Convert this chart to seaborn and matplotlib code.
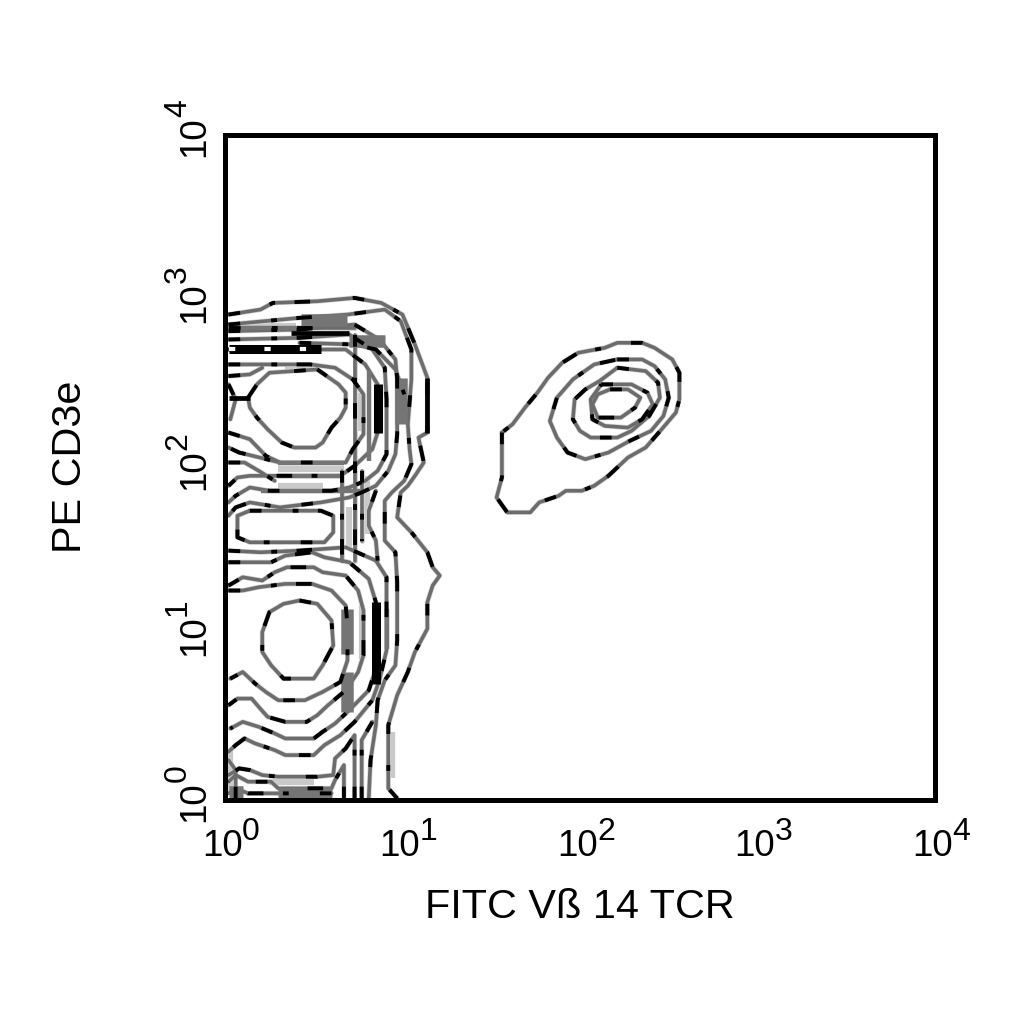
import numpy as np
import pandas as pd
import matplotlib
matplotlib.use('Agg')
import matplotlib.pyplot as plt
import seaborn as sns

# Contour outlines, in log10 units (decades) on both axes

# Population on the left, lines running round both peaks
outer_x = [.02,.20,.27,.52,.73,.88,1.00,1.07,1.14,1.14,1.09,1.12,1.07,1.03,.99,.97,1.05,1.14,1.17,1.21,1.17,1.14,1.14,1.07,1.03,.97,.92,.92,.92,.97]
outer_y = [2.92,2.95,2.99,3.00,3.02,2.99,2.92,2.74,2.54,2.21,2.18,2.03,1.95,1.89,1.85,1.70,1.61,1.49,1.40,1.35,1.29,1.19,1.03,.89,.77,.63,.45,.24,.07,.01]
second_x = [.02,.42,.69,.90,.99,1.05,1.05,1.03,1.04,1.05,1.01,.94,.90,.90,.90,.96,.97,.97,.96,.90,.86,.85,.82,.81]
second_y = [2.86,2.90,2.92,2.95,2.88,2.71,2.53,2.26,2.11,2.02,1.92,1.85,1.80,1.68,1.56,1.49,1.31,.96,.81,.72,.60,.45,.24,.01]

# Upper peak
up_c_x = [.02,.42,.73,.87,.96,.97,.97,.96,.92,.85,.77,.70,.54,.31,.14,.06,.02]
up_c_y = [2.82,2.83,2.86,2.77,2.65,2.53,2.20,2.08,1.98,1.89,1.85,1.82,1.79,1.76,1.79,1.76,1.71]
up_d_x = [.02,.42,.70,.83,.90,.91,.91,.86,.79,.70,.60,.25,.14,.06,.02]
up_d_y = [2.77,2.78,2.80,2.71,2.60,2.41,2.08,1.98,1.92,1.88,1.86,1.86,1.88,1.83,1.79]
up_e_x = [.02,.48,.68,.79,.86,.86,.83,.73,.65,.25,.14,.07,.02]
up_e_y = [2.71,2.71,2.71,2.62,2.50,2.21,2.11,2.01,1.95,1.95,1.95,1.94,1.89]
up_f_x = [.02,.48,.62,.72,.78,.78,.72,.68,.31,.08,.02]
up_f_y = [2.62,2.62,2.60,2.53,2.44,2.20,2.11,2.03,2.03,2.09,2.12]
up_ring_x = [.52,.64,.68,.68,.65,.60,.55,.51,.39,.32,.24,.18,.14,.13,.18,.25,.52]
up_ring_y = [2.59,2.50,2.45,2.36,2.30,2.24,2.15,2.12,2.12,2.15,2.23,2.30,2.36,2.42,2.50,2.57,2.59]
up_rim_x = [.42,.73,.85,.96,1.01]
up_rim_y = [2.75,2.74,2.71,2.59,2.44]
up_row_x = [.02,.73]
up_row_y = [2.84,2.84]
up_left_a_x = [.02,.14,.21]
up_left_a_y = [2.55,2.56,2.60]
up_left_b_x = [.02,.06,.03]
up_left_b_y = [2.50,2.41,2.29]
up_left_c_x = [.02,.14,.23,.31]
up_left_c_y = [2.21,2.17,2.07,2.03]
up_left_d_x = [.02,.11,.19,.28]
up_left_d_y = [2.03,2.03,1.98,1.92]

# Saddle between the two left peaks
saddle_box_x = [.14,.54,.61,.61,.56,.14,.07,.07,.14]
saddle_box_y = [1.74,1.74,1.71,1.61,1.55,1.55,1.58,1.71,1.74]
saddle_a_x = [.73,.73]
saddle_a_y = [2.80,1.44]
saddle_b_x = [.85,.81,.81,.85,.86]
saddle_b_y = [1.86,1.74,1.65,1.56,1.44]
saddle_c_x = [.77,.77]
saddle_c_y = [1.98,1.56]
saddle_d_x = [.66,.66]
saddle_d_y = [1.98,1.44]

# Lower peak
low_0_x = [.42,.52,.60,.61,.55,.50,.33,.26,.21,.21,.25,.33,.42]
low_0_y = [1.20,1.18,1.08,.93,.81,.73,.73,.81,.89,1.01,1.13,1.18,1.20]
low_1_x = [.02,.10,.19,.34,.49,.60,.68,.69,.69,.65,.55,.45,.30,.23,.17,.10,.03]
low_1_y = [1.26,1.26,1.28,1.30,1.30,1.26,1.17,1.05,.84,.71,.65,.60,.60,.65,.70,.77,.73]
low_2_x = [.02,.10,.21,.28,.35,.50,.55,.68,.75,.78,.78,.75,.68,.58,.52,.46,.34,.24,.19,.15,.07,.02]
low_2_y = [1.29,1.34,1.32,1.37,1.40,1.40,1.37,1.35,1.26,1.14,.87,.77,.66,.57,.51,.47,.47,.50,.56,.61,.61,.57]
low_3_x = [.02,.11,.26,.34,.49,.56,.70,.81,.85,.85,.81,.70,.62,.55,.50,.34,.28,.19,.10,.03]
low_3_y = [1.43,1.43,1.43,1.47,1.49,1.46,1.43,1.33,1.19,.79,.66,.54,.46,.41,.37,.37,.40,.44,.47,.43]
low_4_x = [.02,.20,.42,.68,.85,.91,.91,.87,.83,.73,.65,.56,.50,.34,.28,.17,.11,.06,.02]
low_4_y = [1.50,1.49,1.50,1.52,1.44,1.34,.90,.72,.60,.47,.39,.33,.27,.27,.30,.34,.37,.33,.29]

# Bottom edge
base_a_x = [.73,.73,.68,.62,.61,.52,.30,.21,.14,.08,.02]
base_a_y = [.01,.39,.31,.25,.15,.14,.14,.15,.18,.19,.15]
base_b_x = [.67,.67,.62,.60,.30,.26,.13,.06,.02]
base_b_y = [.01,.21,.12,.07,.07,.11,.11,.15,.11]
base_c_x = [.60,.30,.26,.13,.06,.02]
base_c_y = [.04,.04,.04,.04,.07,.04]
base_d_x = [.77,.77,.83]
base_d_y = [.01,.36,.47]
base_e_x = [.06,.06,.02]
base_e_y = [.01,.18,.24]

# Population on the right
right_1_x = [1.56,1.56,1.53,1.55,1.59,1.72,1.77,1.88,1.92,2.01,2.08,2.16,2.27,2.37,2.46,2.54,2.56,2.56,2.52,2.42,2.35,2.21,2.14,1.99,1.90,1.82,1.76,1.69,1.62,1.56]
right_1_y = [2.21,1.94,1.82,1.79,1.73,1.73,1.79,1.83,1.86,1.86,1.89,1.95,2.06,2.12,2.23,2.33,2.41,2.57,2.65,2.72,2.75,2.75,2.72,2.69,2.63,2.54,2.45,2.36,2.26,2.21]
right_2_x = [2.21,2.35,2.42,2.48,2.50,2.47,2.40,2.28,2.16,2.03,1.93,1.87,1.83,1.87,1.96,2.08,2.21]
right_2_y = [2.65,2.65,2.61,2.53,2.42,2.31,2.22,2.16,2.09,2.05,2.09,2.18,2.28,2.42,2.53,2.62,2.65]
right_3_x = [2.21,2.37,2.44,2.45,2.39,2.29,2.21,2.06,2.00,1.96,1.97,2.03,2.11,2.21]
right_3_y = [2.60,2.58,2.51,2.42,2.31,2.22,2.18,2.18,2.22,2.29,2.41,2.47,2.52,2.60]
right_4_x = [2.12,2.29,2.38,2.41,2.35,2.27,2.14,2.07,2.06,2.12]
right_4_y = [2.50,2.50,2.45,2.38,2.29,2.24,2.25,2.29,2.41,2.50]
right_5_x = [2.17,2.27,2.34,2.31,2.23,2.10,2.07,2.10,2.17]
right_5_y = [2.47,2.47,2.42,2.36,2.30,2.30,2.38,2.44,2.47]

# Places where the lines pile up into solid black, grey or pale bands
black_x = [[.37,.70],[.02,.14],[1.14,1.14]]
black_y = [[2.81,2.81],[2.42,2.42],[2.54,2.21]]
black_wide_x = [[.02,.54],[.86,.86],[.85,.85]]
black_wide_y = [[2.71,2.71],[2.50,2.21],[1.19,.70]]
grey_x = [[.30,.67],[.30,.67],[.20,.76],[.81,.81],[.91,.91],[.02,.48]]
grey_y = [[2.03,2.03],[1.95,1.95],[1.86,1.86],[2.58,2.04],[1.15,.91],[2.84,2.84]]
grey_wide_x = [[.43,.69],[.99,.99],[.69,.69],[.69,.69],[.30,.60],[.02,.10],[.70,.90]]
grey_wide_y = [[2.89,2.89],[2.54,2.26],[1.15,.88],[.77,.53],[.04,.04],[.05,.05],[2.76,2.76]]
pale_x = [[.76,.76],[.77,.77],[.30,.67],[.30,.55],[.34,.50],[.25,.50],[.03,.03],[.94,.94],[.05,.40],[.70,.70],[.80,.80]]
pale_y = [[2.45,2.22],[1.17,.85],[1.99,1.99],[1.89,1.89],[2.60,2.60],[.11,.11],[.30,.05],[.41,.13],[2.85,2.85],[1.76,1.51],[1.95,1.60]]

exponents = [0, 1, 2, 3, 4]
x_name = 'FITC Vß 14 TCR'
y_name = 'PE CD3e'

contours = [
    (outer_x, outer_y), (second_x, second_y),
    (up_c_x, up_c_y), (up_d_x, up_d_y), (up_e_x, up_e_y), (up_f_x, up_f_y), (up_ring_x, up_ring_y),
    (up_rim_x, up_rim_y), (up_row_x, up_row_y),
    (up_left_a_x, up_left_a_y), (up_left_b_x, up_left_b_y), (up_left_c_x, up_left_c_y), (up_left_d_x, up_left_d_y),
    (saddle_box_x, saddle_box_y), (saddle_a_x, saddle_a_y), (saddle_b_x, saddle_b_y),
    (saddle_c_x, saddle_c_y), (saddle_d_x, saddle_d_y),
    (low_0_x, low_0_y), (low_1_x, low_1_y), (low_2_x, low_2_y), (low_3_x, low_3_y), (low_4_x, low_4_y),
    (base_a_x, base_a_y), (base_b_x, base_b_y), (base_c_x, base_c_y), (base_d_x, base_d_y), (base_e_x, base_e_y),
    (right_1_x, right_1_y), (right_2_x, right_2_y), (right_3_x, right_3_y), (right_4_x, right_4_y), (right_5_x, right_5_y),
]


def to_frame(pairs):
    # long table with one id per line, values back on the linear scale
    parts = []
    for i, (xs, ys) in enumerate(pairs):
        parts.append(pd.DataFrame({'x': 10.0 ** np.array(xs), 'y': 10.0 ** np.array(ys), 'line': i}))
    return pd.concat(parts, ignore_index=True)


contour_df = to_frame(contours)
black_wide_df = to_frame(list(zip(black_wide_x, black_wide_y)))

sns.set_style('white')
plt.rcParams['font.family'] = ['Liberation Sans', 'DejaVu Sans']
plt.rcParams['text.color'] = 'black'
plt.rcParams['axes.labelcolor'] = 'black'

fig = plt.figure(figsize=(10.24, 10.24), dpi=100)
ax = fig.add_axes([225 / 1024, 1 - 800 / 1024, 710 / 1024, 665 / 1024])
ax.set_xscale('log')
ax.set_yscale('log')


def draw(data, color, width, **kws):
    sns.lineplot(data=data, x='x', y='y', units='line', estimator=None, sort=False,
                 color=color, linewidth=width, legend=False, ax=ax, **kws)


draw(to_frame(list(zip(pale_x, pale_y))), '#c9c9c9', 4.5, solid_capstyle='butt')
draw(contour_df, '#d6d6d6', 3.6)
draw(contour_df, '#6c6c6c', 2.6)
draw(to_frame(list(zip(grey_x, grey_y))), '#757575', 3.2, solid_capstyle='butt')
draw(to_frame(list(zip(grey_wide_x, grey_wide_y))), '#757575', 9.0, solid_capstyle='butt')
draw(contour_df, 'black', 2.8, linestyle=(0, (3, 8, 1.5, 5, 4, 11)))
draw(to_frame(list(zip(black_x, black_y))), 'black', 3.4, solid_capstyle='butt')
draw(black_wide_df, 'black', 6.5, solid_capstyle='butt')
# the dense black band at the top is broken up by small white cells
draw(black_wide_df[black_wide_df['line'] == 0], 'white', 3.0, linestyle=(0, (1.5, 7)))

ax.set_xlim(1, 1e4)
ax.set_ylim(1, 1e4)
ax.set_xticks([10.0 ** e for e in exponents], labels=[])
ax.set_yticks([10.0 ** e for e in exponents], labels=[])
ax.minorticks_off()
ax.tick_params(length=0)
ax.set_xlabel('')
ax.set_ylabel('')

for spine in ax.spines.values():
    spine.set_linewidth(3.6)
    spine.set_color('black')

# tick labels: the exponent is nearly as large as the base, so mathtext will not do
base_font = 26.5
power_font = 23
for e in exponents:
    pos = 10.0 ** e
    ax.annotate('10', (pos, 1), xytext=(-23, -56), textcoords='offset pixels',
                ha='left', va='baseline', fontsize=base_font, annotation_clip=False)
    ax.annotate(str(e), (pos, 1), xytext=(17, -40), textcoords='offset pixels',
                ha='left', va='baseline', fontsize=power_font, annotation_clip=False)
    ax.annotate('10', (1, pos), xytext=(-21, -22), textcoords='offset pixels', rotation=90,
                ha='left', va='baseline', rotation_mode='anchor', fontsize=base_font, annotation_clip=False)
    ax.annotate(str(e), (1, pos), xytext=(-39, 18), textcoords='offset pixels', rotation=90,
                ha='left', va='baseline', rotation_mode='anchor', fontsize=power_font, annotation_clip=False)

ax.set_xlabel(x_name, fontsize=29.8)
ax.set_ylabel(y_name, fontsize=29.8)
ax.xaxis.set_label_coords(0.5, -(907 - 800) / 665)
ax.yaxis.set_label_coords(-(225 - 70) / 710, (800 - 467) / 665)
ax.xaxis.label.set_va('center')
ax.yaxis.label.set_va('center')

fig.savefig('out.png', dpi=100)
